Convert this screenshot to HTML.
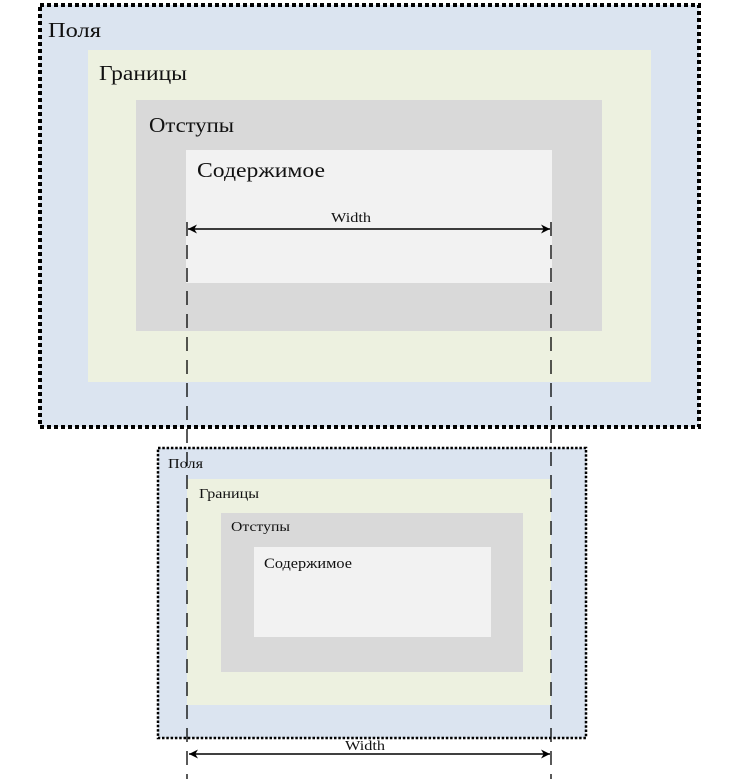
<!DOCTYPE html>
<html><head><meta charset="utf-8"><style>
html,body{margin:0;padding:0;background:#fff;}
svg{display:block}
text{font-family:"Liberation Serif","DejaVu Serif",serif;fill:#111;}
</style></head><body>
<svg width="750" height="779" viewBox="0 0 750 779" xmlns="http://www.w3.org/2000/svg">
<defs>
<marker id="ah" viewBox="0 0 10 10" refX="10" refY="5" markerWidth="11" markerHeight="9" orient="auto-start-reverse" markerUnits="userSpaceOnUse">
<path d="M0,0 L10,5 L0,10 L3,5 z" fill="#000"/>
</marker>
</defs>
<rect x="40" y="5" width="659" height="422" fill="#dbe4f0"/>
<rect x="88" y="50" width="563" height="332" fill="#edf1e0"/>
<rect x="136" y="100" width="466" height="231" fill="#d9d9d9"/>
<rect x="186" y="150" width="366" height="133" fill="#f2f2f2"/>
<rect x="40" y="5" width="659" height="422" fill="none" stroke="#000" stroke-width="4" stroke-dasharray="4 3"/>
<text x="48" y="37" font-size="21" textLength="53" lengthAdjust="spacingAndGlyphs">Поля</text>
<text x="99" y="80" font-size="21" textLength="88" lengthAdjust="spacingAndGlyphs">Границы</text>
<text x="149" y="132" font-size="21" textLength="85" lengthAdjust="spacingAndGlyphs">Отступы</text>
<text x="197" y="177" font-size="21" textLength="128" lengthAdjust="spacingAndGlyphs">Содержимое</text>
<text x="331" y="222" font-size="14" textLength="40" lengthAdjust="spacingAndGlyphs">Width</text>
<line x1="188" y1="229" x2="550" y2="229" stroke="#000" stroke-width="1.5" marker-start="url(#ah)" marker-end="url(#ah)"/>
<rect x="158" y="448" width="428" height="290" fill="#dbe4f0"/>
<rect x="187" y="479" width="364" height="226" fill="#edf1e0"/>
<rect x="221" y="513" width="302" height="159" fill="#d9d9d9"/>
<rect x="254" y="547" width="237" height="90" fill="#f2f2f2"/>
<rect x="158" y="448" width="428" height="290" fill="none" stroke="#000" stroke-width="2.5" stroke-dasharray="2.5 1.8"/>
<text x="168" y="468" font-size="14" textLength="35" lengthAdjust="spacingAndGlyphs">Поля</text>
<text x="199" y="498" font-size="14" textLength="60" lengthAdjust="spacingAndGlyphs">Границы</text>
<text x="231" y="531" font-size="14" textLength="59" lengthAdjust="spacingAndGlyphs">Отступы</text>
<text x="264" y="568" font-size="15" textLength="88" lengthAdjust="spacingAndGlyphs">Содержимое</text>
<text x="345" y="750" font-size="14" textLength="40" lengthAdjust="spacingAndGlyphs">Width</text>
<line x1="189" y1="754" x2="550" y2="754" stroke="#000" stroke-width="1.5" marker-start="url(#ah)" marker-end="url(#ah)"/>
<line x1="187" y1="222" x2="187" y2="779" stroke="#000" stroke-width="1.3" stroke-dasharray="14 9"/>
<line x1="551" y1="222" x2="551" y2="779" stroke="#000" stroke-width="1.3" stroke-dasharray="14 9"/>
</svg>
</body></html>
